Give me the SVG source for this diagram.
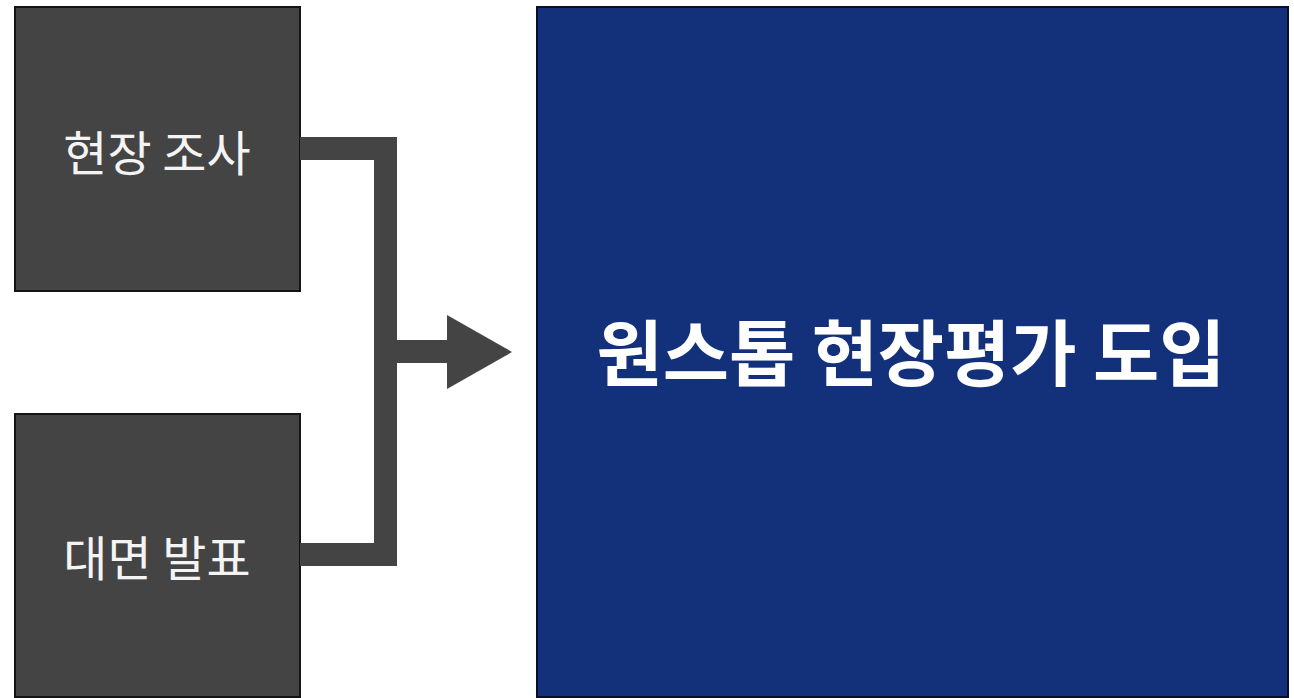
<svg xmlns="http://www.w3.org/2000/svg" width="1294" height="698" viewBox="0 0 1294 698">
<style>
.src{fill:#444444;stroke:#141414;stroke-width:2}
.lbl{font-family:"Noto Sans CJK KR","Noto Sans",sans-serif;fill:#f4f4f4;font-size:48px;text-anchor:middle}
.big{font-family:"Noto Sans CJK KR","Noto Sans",sans-serif;fill:#ffffff;font-size:72px;font-weight:700;text-anchor:middle}
.conn{fill:#444444}
</style>
<rect width="1294" height="698" fill="#ffffff"/>
<g id="node-survey">
<rect class="src" x="15" y="7" width="285" height="284"/>
<text class="lbl" x="157" y="171">현장 조사</text>
</g>
<g id="node-presentation">
<rect class="src" x="15" y="414" width="285" height="283"/>
<text class="lbl" x="157" y="576">대면 발표</text>
</g>
<g id="node-target">
<rect x="537" y="7" width="751" height="690" fill="#13317a" stroke="#0a0f25" stroke-width="2"/>
<text class="big" x="911" y="380">원스톱 현장평가 도입</text>
</g>
<g id="connectors">
<path class="conn" d="M300 137 H397 V566 H300 V543 H374 V160 H300 Z"/>
<rect class="conn" x="396" y="340" width="52" height="23"/>
<polygon class="conn" points="447,315 512,352 447,389"/>
</g>
</svg>
